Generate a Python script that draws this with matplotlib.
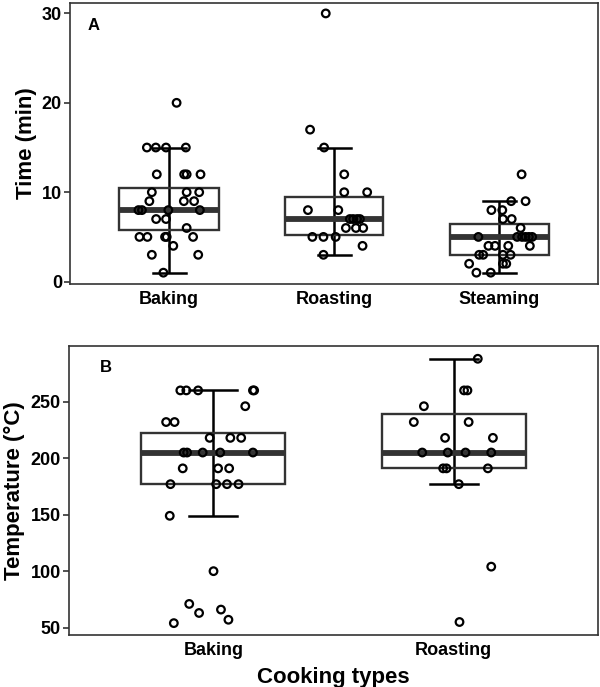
import matplotlib
matplotlib.use("Agg")
import matplotlib.pyplot as plt
import numpy as np

plt.rcParams['font.family'] = ['Liberation Sans', 'DejaVu Sans']
plt.rcParams['font.weight'] = 'bold'

# ---------------- data ----------------
time_categories = ["Baking", "Roasting", "Steaming"]
temp_categories = ["Baking", "Roasting"]

time_baking = [20, 15, 15, 15, 15, 12, 12, 12, 12, 10, 10, 10, 9, 9, 9,
               8, 8, 8, 8, 7, 7, 6, 5, 5, 5, 5, 5, 4, 3, 3, 1]
time_baking_jit = [0.046, -0.134, -0.080, -0.018, 0.102, -0.074, 0.092, 0.107, 0.191,
                   -0.104, 0.107, 0.183, -0.119, 0.090, 0.152,
                   -0.185, -0.164, -0.004, 0.187, -0.078, -0.018, 0.107,
                   -0.179, -0.131, -0.024, -0.014, 0.146, 0.026, -0.104, 0.177, -0.034]

time_roasting = [30, 17, 15, 12, 10, 10, 8, 8, 7, 7, 7, 7, 6, 6, 6, 5, 5, 5, 4, 3]
time_roasting_jit = [-0.050, -0.145, -0.060, 0.062, 0.062, 0.201, -0.158, 0.026,
                     0.096, 0.116, 0.140, 0.157, 0.072, 0.133, 0.177,
                     -0.131, -0.064, 0.010, 0.173, -0.064]

time_steaming = [12, 9, 9, 8, 8, 7, 7, 6, 5, 5, 5, 5, 5, 5, 4, 4, 4, 4,
                 3, 3, 3, 3, 2, 2, 2, 1, 1]
time_steaming_jit = [0.137, 0.074, 0.161, -0.046, 0.020, 0.024, 0.077, 0.131,
                     -0.125, 0.110, 0.140, 0.161, 0.181, 0.201,
                     -0.064, -0.024, 0.056, 0.187,
                     -0.120, -0.096, 0.024, 0.070, -0.181, 0.024, 0.044, -0.137, -0.050]

temp_baking = [260, 260, 260, 260, 260, 246, 232, 232, 218, 218, 218,
               205, 205, 205, 205, 205, 191, 191, 191, 177, 177, 177, 177,
               149, 100, 71, 66, 63, 57, 54]
temp_baking_jit = [-0.137, -0.112, -0.063, 0.165, 0.170, 0.133, -0.196, -0.161,
                   -0.015, 0.071, 0.116, -0.123, -0.109, -0.044, 0.029, 0.165,
                   -0.127, 0.020, 0.066, -0.178, 0.012, 0.057, 0.105,
                   -0.181, 0.001, -0.100, 0.032, -0.059, 0.063, -0.164]

temp_roasting = [288, 260, 260, 246, 232, 232, 218, 218, 205, 205, 205, 205,
                 191, 191, 191, 177, 104, 55]
temp_roasting_jit = [0.100, 0.043, 0.057, -0.124, -0.166, 0.062, -0.036, 0.163,
                     -0.131, -0.025, 0.049, 0.156, -0.044, -0.030, 0.142,
                     0.021, 0.156, 0.024]

# box statistics: whisker low, Q1, median, Q3, whisker high
time_box = [[1, 5.75, 8, 10.5, 15],
            [3, 5.25, 7, 9.5, 15],
            [1, 3, 5, 6.5, 9]]
temp_box = [[149, 177, 205, 222, 260],
            [177, 191, 205, 239, 288]]

time_yticks = [0, 10, 20, 30]
temp_yticks = [50, 100, 150, 200, 250]

# ---------------- plotting ----------------
W, H = 600, 687
fig = plt.figure(figsize=(W / 100, H / 100), dpi=100)

axA = fig.add_axes([70 / W, 1 - 284.3 / H, (598 - 70) / W, (284.3 - 2.7) / H])
axB = fig.add_axes([69 / W, 1 - 635 / H, (598 - 69) / W, (635 - 346) / H])

BOXC = '#333333'


def draw(ax, cats, box, vals, jits):
    pos = np.arange(1, len(cats) + 1)
    stats = []
    for b in box:
        stats.append(dict(whislo=b[0], q1=b[1], med=b[2], q3=b[3], whishi=b[4], fliers=[]))
    for p, b in zip(pos, box):
        ax.plot([p, p], [b[0], b[4]], color='black', lw=1.8, zorder=2, solid_capstyle='butt')
        for y in (b[0], b[4]):
            ax.plot([p - 0.1, p + 0.1], [y, y], color='black', lw=1.8, zorder=2)
    ax.bxp(stats, positions=pos, widths=0.6, showcaps=False, showfliers=False,
           whiskerprops=dict(lw=0), patch_artist=True,
           boxprops=dict(facecolor='none', edgecolor=BOXC, lw=1.7),
           medianprops=dict(color=BOXC, lw=4.2, solid_capstyle='butt'), zorder=3)
    for p, v, j in zip(pos, vals, jits):
        ax.scatter(p + np.array(j), v, s=30, facecolors='none', edgecolors='black',
                   linewidths=1.6, zorder=4)
    ax.set_xticks(pos)
    ax.set_xticklabels(cats, fontsize=13, fontweight='bold')
    ax.set_xlim(0.4, len(cats) + 0.6)
    for s in ax.spines.values():
        s.set_color('#333333')
        s.set_linewidth(1.2)
    ax.tick_params(axis='x', length=0, pad=4.8)
    ax.tick_params(axis='y', length=4.3, width=1.2, color='#333333', labelsize=13, pad=1.5)
    for lab in ax.get_yticklabels():
        lab.set_fontweight('bold')


draw(axA, time_categories, time_box,
     [time_baking, time_roasting, time_steaming],
     [time_baking_jit, time_roasting_jit, time_steaming_jit])
axA.set_ylim(-0.3, 31.2)
axA.set_yticks(time_yticks)
axA.set_yticklabels([str(t) for t in time_yticks], fontweight='bold')
axA.set_ylabel("Time (min)", fontsize=16, fontweight='bold', labelpad=3.5)
axA.text(0.034, 0.945, "A", transform=axA.transAxes, fontsize=12, fontweight='bold',
         va='top', ha='left')

draw(axB, temp_categories, temp_box, [temp_baking, temp_roasting],
     [temp_baking_jit, temp_roasting_jit])
axB.set_ylim(43.5, 299.3)
axB.set_yticks(temp_yticks)
axB.set_yticklabels([str(t) for t in temp_yticks], fontweight='bold')
axB.set_ylabel("Temperature (°C)", fontsize=16, fontweight='bold', labelpad=4)
axB.set_xlabel("Cooking types", fontsize=16, fontweight='bold', labelpad=6)
axB.text(0.059, 0.95, "B", transform=axB.transAxes, fontsize=12, fontweight='bold',
         va='top', ha='left')

fig.savefig("out.png", dpi=100)
